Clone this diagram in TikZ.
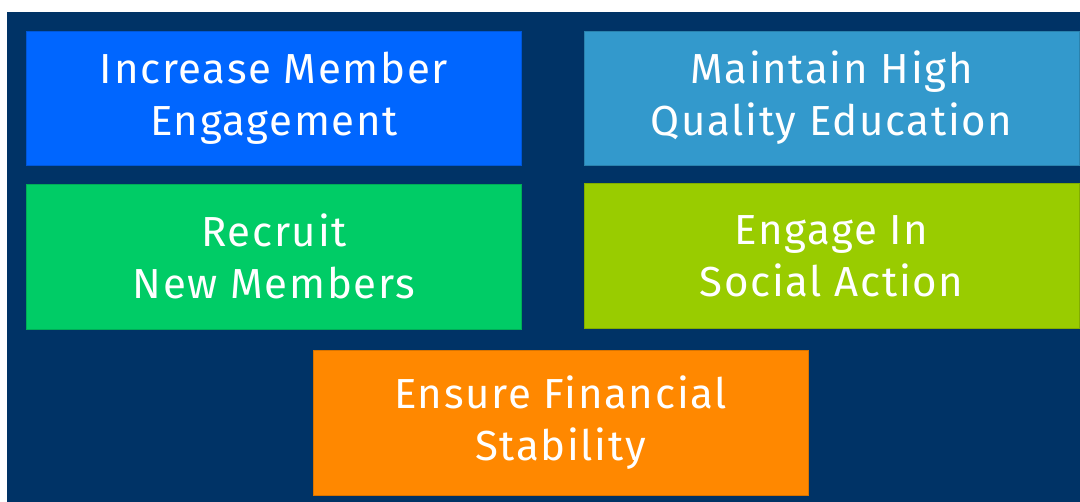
\documentclass[tikz,border=0pt]{standalone}
\usepackage{fontspec}
\setmainfont{Fira Sans}[LetterSpace=4]
\usetikzlibrary{positioning}
\definecolor{BackClr}{HTML}{003366}
\definecolor{EngageClr}{HTML}{0066FF}
\definecolor{EduClr}{HTML}{3399CC}
\definecolor{RecruitClr}{HTML}{00CC66}
\definecolor{ActionClr}{HTML}{99CC00}
\definecolor{MoneyClr}{HTML}{FF8800}

\tikzset{
  goal/.style={draw=#1!85!black, line width=0.6pt, fill=#1, text=white,
    minimum width=495pt, minimum height=134pt, inner sep=0pt,
    align=center, font=\fontsize{42}{52}\selectfont},
  tallgoal/.style={goal=#1, minimum height=145pt}
}

\begin{document}
\begin{tikzpicture}[x=1pt,y=1pt]
\useasboundingbox (0,0) rectangle (1080,502);
\fill[BackClr] (7,0) rectangle (1080,490);

\node[goal=EngageClr] (engage) at (274,403.5) {Increase Member\\Engagement};
\node[goal=EduClr] (edu) at (831.5,404) {Maintain High\\Quality Education};
\node[tallgoal=RecruitClr] (recruit) at (274,245.5) {Recruit\\New Members};
\node[tallgoal=ActionClr] (action) at (831.5,246) {Engage In\\Social Action};
\node[tallgoal=MoneyClr] (money) at (560.5,79.5) {Ensure Financial\\Stability};

\end{tikzpicture}
\end{document}
